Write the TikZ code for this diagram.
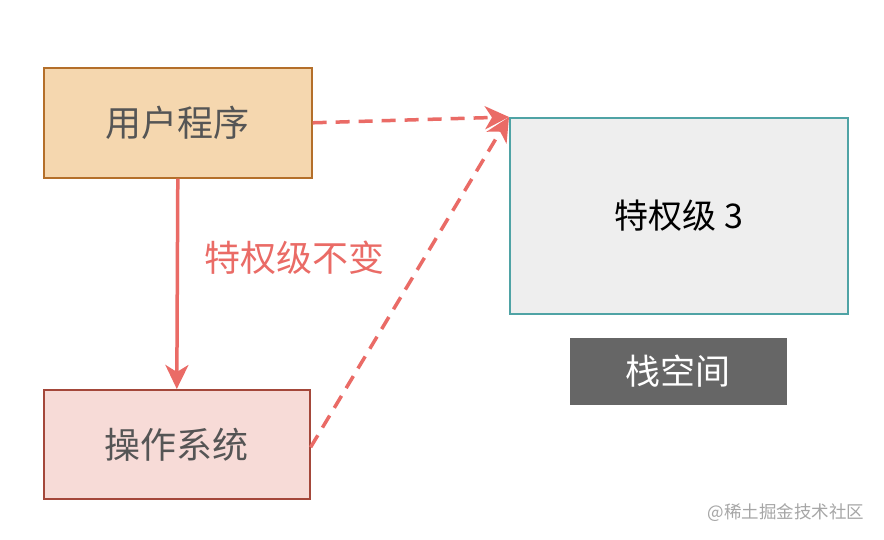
\documentclass[tikz,border=0pt]{standalone}
\usepackage{fontspec}
\setmainfont{Noto Sans CJK SC}
\usetikzlibrary{arrows.meta}
\definecolor{arrowred}{HTML}{EA6B66}
\definecolor{userfill}{HTML}{F5D7AF}
\definecolor{userdraw}{HTML}{B46F2A}
\definecolor{osfill}{HTML}{F7DBD7}
\definecolor{osdraw}{HTML}{A4473A}
\definecolor{privfill}{HTML}{EEEEEE}
\definecolor{privdraw}{HTML}{4FA3A5}
\definecolor{textgray}{HTML}{555555}
\tikzset{
  box/.style={draw, line width=1.6pt, anchor=north west, inner sep=0pt,
    font=\fontsize{36}{42}\selectfont},
  conn/.style={draw=arrowred, line width=3.5pt,
    -{Stealth[length=24pt,width=23pt,inset=7pt]}},
  dashconn/.style={conn, dash pattern=on 14pt off 9pt}
}
\begin{document}
\begin{tikzpicture}[x=1pt,y=-1pt]
\useasboundingbox[fill=white] (0,0) rectangle (884,540);
\node[box, fill=userfill, draw=userdraw, text=textgray, minimum width=268pt, minimum height=110pt] (user) at (43,67) {用户程序};
\node[box, fill=osfill, draw=osdraw, text=textgray, minimum width=266pt, minimum height=109pt] (os) at (43,389) {操作系统};
\node[box, fill=privfill, draw=privdraw, text=black, minimum width=338pt, minimum height=196pt, font=\fontsize{34}{40}\selectfont] (priv) at (509,117) {特权级 3};
\node[box, draw=none, fill=black!60, text=white, minimum width=217pt, minimum height=67pt, font=\fontsize{35}{40}\selectfont] (stack) at (569,337) {栈空间};
\node[text=arrowred, font=\fontsize{36}{42}\selectfont] (label) at (294,258) {特权级不变};
\node[text=black!35, font=\fontsize{17.5}{20}\selectfont, anchor=east] (mark) at (868,513) {@稀土掘金技术社区};
\draw[conn] (user.south) -- (os.north);
\draw[dashconn] (user.east) -- (priv.north west);
\draw[dashconn] ([yshift=-3pt]os.east) -- (priv.north west);
\end{tikzpicture}
\end{document}
